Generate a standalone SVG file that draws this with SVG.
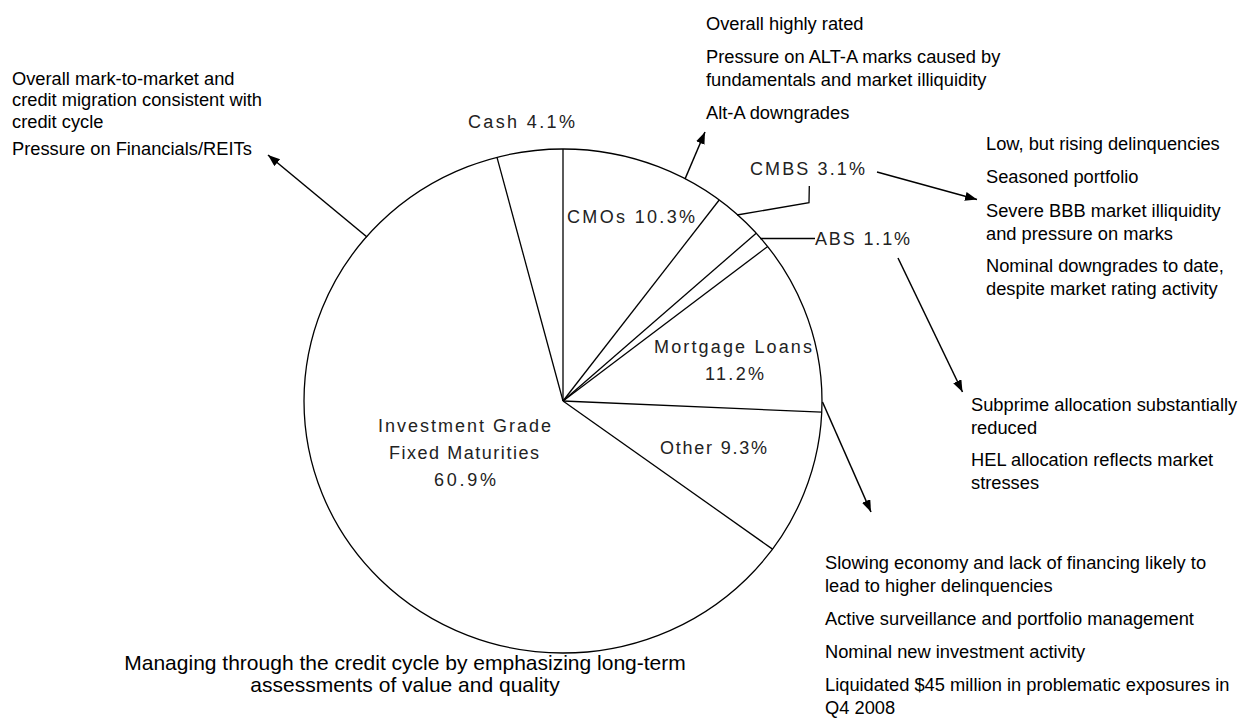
<svg xmlns="http://www.w3.org/2000/svg" width="1238" height="723" viewBox="0 0 1238 723">
<style>
.t{font-family:"Liberation Sans",Arial,sans-serif;font-size:18.3px;fill:#000}
.p{font-family:"Liberation Sans",Arial,sans-serif;font-size:18px;fill:#222}
.ttl{font-family:"Liberation Sans",Arial,sans-serif;font-size:21px;fill:#000;text-anchor:middle}
.ln{stroke:#000;stroke-width:1.3;fill:none}
.ar{stroke:#000;stroke-width:1.5;fill:none;marker-end:url(#ah)}
</style>
<defs>
<marker id="ah" markerUnits="userSpaceOnUse" markerWidth="13" markerHeight="10" refX="12" refY="4.5" orient="auto">
<path d="M0,0 L12,4.5 L0,9 z" fill="#000"/>
</marker>
</defs>
<rect width="1238" height="723" fill="#fff"/>
<g id="pie">
<ellipse cx="563" cy="401" rx="259" ry="252" fill="#fff" stroke="#000" stroke-width="1.3"/>
<line class="ln" x1="563" y1="401" x2="563" y2="149"/>
<line class="ln" x1="563" y1="401" x2="719.2" y2="200"/>
<line class="ln" x1="563" y1="401" x2="756.2" y2="233.2"/>
<line class="ln" x1="563" y1="401" x2="767.7" y2="246.5"/>
<line class="ln" x1="563" y1="401" x2="821.7" y2="412.1"/>
<line class="ln" x1="563" y1="401" x2="772.5" y2="549.1"/>
<line class="ln" x1="563" y1="401" x2="497" y2="157.3"/>
</g>
<g id="pie-labels">
<text class="p" x="468" y="128" textLength="107" lengthAdjust="spacing">Cash 4.1%</text>
<text class="p" x="567" y="223" textLength="128" lengthAdjust="spacing">CMOs 10.3%</text>
<text class="p" x="750" y="175" textLength="115" lengthAdjust="spacing">CMBS 3.1%</text>
<text class="p" x="815" y="245" textLength="95" lengthAdjust="spacing">ABS 1.1%</text>
<text class="p" x="654" y="353" textLength="158" lengthAdjust="spacing">Mortgage Loans</text>
<text class="p" x="705" y="380" textLength="59" lengthAdjust="spacing">11.2%</text>
<text class="p" x="660" y="454" textLength="107" lengthAdjust="spacing">Other 9.3%</text>
<text class="p" x="378" y="432" textLength="173" lengthAdjust="spacing">Investment Grade</text>
<text class="p" x="389" y="459" textLength="150" lengthAdjust="spacing">Fixed Maturities</text>
<text class="p" x="434" y="486" textLength="62" lengthAdjust="spacing">60.9%</text>
</g>
<g id="connectors">
<line class="ar" x1="367" y1="237" x2="268" y2="155"/>
<line class="ar" x1="685" y1="179" x2="705" y2="132"/>
<line class="ar" x1="877" y1="172" x2="977" y2="199.5"/>
<line class="ar" x1="898" y1="258" x2="962.5" y2="392"/>
<line class="ar" x1="822.5" y1="402" x2="871" y2="512"/>
<polyline class="ln" points="737,215 809,202.7 809.3,186"/>
<line class="ln" x1="760" y1="238.5" x2="815" y2="238.5"/>
</g>
<g id="note-investment">
<text class="t" x="12" y="84.5">Overall mark-to-market and</text>
<text class="t" x="12" y="106">credit migration consistent with</text>
<text class="t" x="12" y="127.5">credit cycle</text>
<text class="t" x="12" y="155">Pressure on Financials/REITs</text>
</g>
<g id="note-cmos">
<text class="t" x="706" y="30">Overall highly rated</text>
<text class="t" x="706" y="63">Pressure on ALT-A marks caused by</text>
<text class="t" x="706" y="85.5">fundamentals and market illiquidity</text>
<text class="t" x="706" y="118.5">Alt-A downgrades</text>
</g>
<g id="note-cmbs">
<text class="t" x="986" y="150">Low, but rising delinquencies</text>
<text class="t" x="986" y="183">Seasoned portfolio</text>
<text class="t" x="986" y="217">Severe BBB market illiquidity</text>
<text class="t" x="986" y="239.5">and pressure on marks</text>
<text class="t" x="986" y="272">Nominal downgrades to date,</text>
<text class="t" x="986" y="295">despite market rating activity</text>
</g>
<g id="note-abs">
<text class="t" x="971" y="411">Subprime allocation substantially</text>
<text class="t" x="971" y="433.5">reduced</text>
<text class="t" x="971" y="466">HEL allocation reflects market</text>
<text class="t" x="971" y="488.5">stresses</text>
</g>
<g id="note-mortgage">
<text class="t" x="825" y="569">Slowing economy and lack of financing likely to</text>
<text class="t" x="825" y="591.5">lead to higher delinquencies</text>
<text class="t" x="825" y="624.5">Active surveillance and portfolio management</text>
<text class="t" x="825" y="657.5">Nominal new investment activity</text>
<text class="t" x="825" y="691">Liquidated $45 million in problematic exposures in</text>
<text class="t" x="825" y="713.5">Q4 2008</text>
</g>
<g id="title">
<text class="ttl" x="405" y="670">Managing through the credit cycle by emphasizing long-term</text>
<text class="ttl" x="405" y="692">assessments of value and quality</text>
</g>
</svg>
